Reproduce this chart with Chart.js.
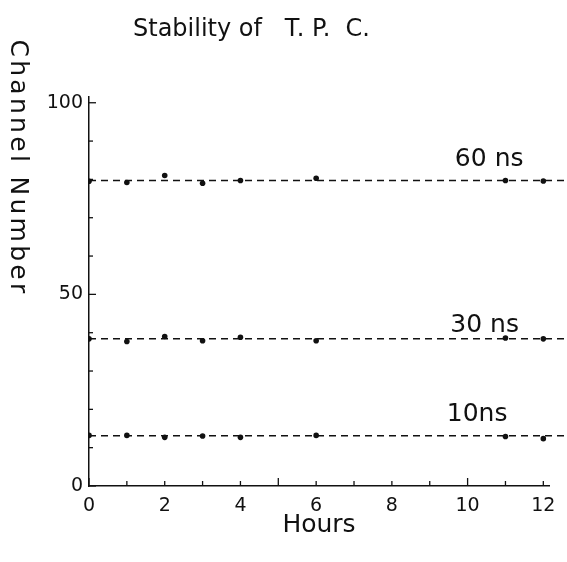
<!DOCTYPE html>
<html>
<head>
<meta charset="utf-8">
<script src="https://cdn.jsdelivr.net/npm/chart.js@4"></script>
<style>
  html, body { margin: 0; padding: 0; background: #fff; }
  #chart { display: block; }
</style>
</head>
<body>
<canvas id="chart" width="567" height="562"></canvas>
<script>
// readings
const hours = [0, 1, 2, 3, 4, 6, 11, 12];
const ch60 = [79.5, 79.2, 81.0, 79.0, 79.7, 80.3, 79.7, 79.6];
const ch30 = [38.4, 37.7, 39.0, 37.9, 38.8, 37.9, 38.6, 38.4];
const ch10 = [13.2, 13.2, 12.7, 13.05, 12.7, 13.2, 12.9, 12.35];
const fitLevels = [79.7, 38.4, 13.1];
const seriesNames = ['60 ns', '30 ns', '10ns'];
const labelAt = [[10.57, 85.2], [10.45, 42.0], [10.25, 18.7]];

const xTickLabels = [0, 2, 4, 6, 8, 10, 12];
const yTickLabels = [0, 50, 100];
const xMinor = [0, 1, 2, 3, 4, 5, 6, 7, 8, 9, 10, 11, 12];
const yMinor = [0, 10, 20, 30, 40, 50, 60, 70, 80, 90, 100];

const ink = '#111';
const font = 'DejaVu Sans';

const pts = ys => hours.map((h, i) => ({ x: h, y: ys[i] }));

function dots(ys) {
  return {
    type: 'scatter',
    data: pts(ys),
    showLine: false,
    pointRadius: 2.8,
    pointBackgroundColor: ink,
    pointBorderColor: ink,
    pointBorderWidth: 0
  };
}

function fitLine(level) {
  return {
    type: 'line',
    data: [{ x: 0, y: level }, { x: 12.7, y: level }],
    borderColor: ink,
    borderWidth: 1.5,
    borderDash: [7, 5],
    pointRadius: 0,
    clip: false
  };
}

const extras = {
  id: 'extras',
  afterDraw(chart) {
    const { ctx, scales: { x, y }, chartArea } = chart;
    ctx.save();
    ctx.strokeStyle = ink;
    ctx.lineWidth = 1.3;
    // inward tick marks
    xMinor.forEach(v => {
      const px = x.getPixelForValue(v);
      const len = v % 5 === 0 ? 8 : 5;
      ctx.beginPath();
      ctx.moveTo(px, chartArea.bottom);
      ctx.lineTo(px, chartArea.bottom - len);
      ctx.stroke();
    });
    yMinor.forEach(v => {
      const py = y.getPixelForValue(v);
      const len = v % 50 === 0 ? 7 : 4;
      ctx.beginPath();
      ctx.moveTo(chartArea.left, py);
      ctx.lineTo(chartArea.left + len, py);
      ctx.stroke();
    });

    ctx.fillStyle = ink;
    ctx.textBaseline = 'middle';

    // title sits left of centre in the original
    ctx.font = '24px "' + font + '"';
    ctx.textAlign = 'left';
    ctx.fillText('Stability of   T. P.  C.', 133, 30);

    ctx.font = '25px "' + font + '"';
    ctx.textAlign = 'center';
    seriesNames.forEach((name, i) => {
      ctx.fillText(name, x.getPixelForValue(labelAt[i][0]), y.getPixelForValue(labelAt[i][1]));
    });

    // y axis title, reading downwards
    ctx.translate(17, 168);
    ctx.rotate(Math.PI / 2);
    ctx.font = '25px "' + font + '"';
    ctx.letterSpacing = '3.3px';
    ctx.fillText('Channel Number', 0, 0);
    ctx.restore();
  }
};

new Chart(document.getElementById('chart'), {
  data: {
    datasets: [
      fitLine(fitLevels[0]), fitLine(fitLevels[1]), fitLine(fitLevels[2]),
      dots(ch60), dots(ch30), dots(ch10)
    ]
  },
  options: {
    responsive: false,
    animation: false,
    layout: { padding: { left: 0, right: 18, top: 97, bottom: 0 } },
    plugins: {
      legend: { display: false },
      tooltip: { enabled: false },
      title: { display: false }
    },
    scales: {
      x: {
        type: 'linear',
        min: 0,
        max: 12.15,
        afterBuildTicks: s => { s.ticks = xTickLabels.map(v => ({ value: v })); },
        afterFit: s => { s.height = 76; },
        grid: { display: false, drawTicks: false },
        border: { display: true, color: ink, width: 1.5 },
        ticks: { color: ink, padding: 9, maxRotation: 0, font: { family: font, size: 19 } },
        title: {
          display: true,
          text: 'Hours',
          color: ink,
          font: { family: font, size: 25 },
          padding: { top: 0, bottom: 22 }
        }
      },
      y: {
        type: 'linear',
        min: 0,
        max: 101.5,
        afterBuildTicks: s => { s.ticks = yTickLabels.map(v => ({ value: v })); },
        afterFit: s => { s.width = 89; },
        grid: { display: false, drawTicks: false },
        border: { display: true, color: ink, width: 1.5 },
        ticks: { color: ink, padding: 6, font: { family: font, size: 19 } }
      }
    }
  },
  plugins: [extras]
});
</script>
</body>
</html>
